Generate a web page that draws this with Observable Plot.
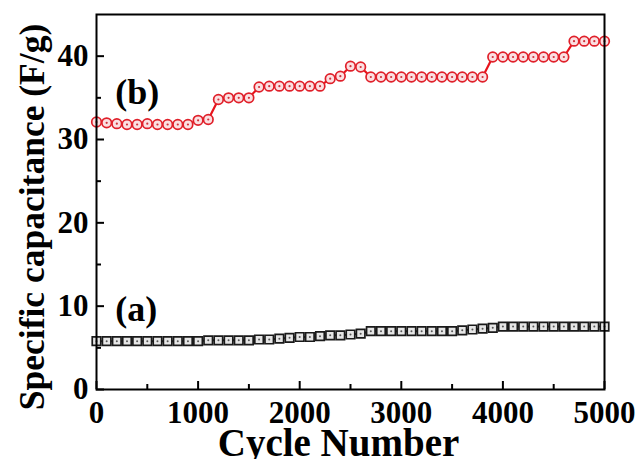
<!DOCTYPE html>
<html>
<head>
<meta charset="utf-8">
<script src="https://cdn.jsdelivr.net/npm/d3@7"></script>
<script src="https://cdn.jsdelivr.net/npm/@observablehq/plot@0.6"></script>
<style>
  html, body { margin: 0; padding: 0; background: #fff; }
</style>
</head>
<body>
<div id="chart"></div>
<script>
const cycles = [0,100,200,300,400,500,600,700,800,900,1000,1100,1200,1300,1400,1500,1600,1700,1800,1900,2000,2100,2200,2300,2400,2500,2600,2700,2800,2900,3000,3100,3200,3300,3400,3500,3600,3700,3800,3900,4000,4100,4200,4300,4400,4500,4600,4700,4800,4900,5000];
const capB = [32.1,32.0,31.9,31.8,31.8,31.9,31.8,31.8,31.8,31.8,32.3,32.4,
  34.8,35.0,35.0,35.0,
  36.3,36.4,36.4,36.4,36.4,36.4,36.4,
  37.3,37.6,38.8,38.7,
  37.5,
  37.5,37.5,37.5,37.5,37.5,37.5,37.5,37.5,37.5,37.5,37.5,
  39.9,
  39.9,39.9,39.9,39.9,39.9,39.9,39.9,
  41.8,41.8,41.8,41.8];
const capA = [5.8,5.8,5.8,5.8,5.8,5.8,5.8,5.8,5.8,5.8,5.8,
  5.9,5.9,5.9,5.9,5.9,
  6.0,6.0,6.1,6.2,6.3,6.3,6.4,6.5,6.5,6.6,6.7,
  7.0,7.0,7.0,7.0,7.0,7.0,7.0,7.0,7.0,
  7.1,7.2,7.3,7.4,
  7.55,7.55,7.55,7.55,7.55,7.55,7.55,7.55,7.55,7.55,7.55];
const xTickLabels = [0,1000,2000,3000,4000,5000];
const xMinorTicks = [500,1500,2500,3500,4500];
const yTickLabels = [0,10,20,30,40];
const yMinorTicks = [5,15,25,35];
const seriesLabels = [
  {text: "(b)", cycle: 400, cap: 35.7},
  {text: "(a)", cycle: 390, cap: 9.6}
];
const xTitle = "Cycle Number";
const yTitle = "Specific capacitance (F/g)";

const dataA = cycles.map((c, i) => ({cycle: c, cap: capA[i]}));
const dataB = cycles.map((c, i) => ({cycle: c, cap: capB[i]}));

const W = 635, H = 459, mL = 96, mR = 31, mT = 14, mB = 70;
const fw = W - mL - mR, fh = H - mT - mB;
const font = "'Liberation Serif', 'Times New Roman', serif";

const plot = Plot.plot({
  width: W, height: H,
  marginLeft: mL, marginRight: mR, marginTop: mT, marginBottom: mB,
  style: {fontFamily: font, fontWeight: "bold", fontSize: "31px", background: "#fff", color: "#000"},
  x: {domain: [0, 5000]},
  y: {domain: [0, 45]},
  marks: [
    // series a
    Plot.line(dataA, {x: "cycle", y: "cap", stroke: "#222", strokeWidth: 2}),
    Plot.dot(dataA, {x: "cycle", y: "cap", symbol: "square", r: 4.8, stroke: "#1a1a1a", strokeWidth: 1.7, fill: "#e6e6e6"}),
    Plot.dot(dataA, {x: "cycle", y: "cap", r: 1, fill: "#555"}),
    // series b
    Plot.line(dataB, {x: "cycle", y: "cap", stroke: "#e8141c", strokeWidth: 2.2}),
    Plot.dot(dataB, {x: "cycle", y: "cap", r: 4.8, stroke: "#e0202a", strokeWidth: 1.7, fill: "#fbe0e2"}),
    Plot.dot(dataB, {x: "cycle", y: "cap", r: 1.1, fill: "#d0303a"}),
    // labels
    Plot.text(seriesLabels, {x: "cycle", y: "cap", text: "text", fontSize: 36, fontWeight: "bold", fill: "#000", lineAnchor: "middle"}),
    // inward ticks
    Plot.tickX(xTickLabels, {x: d => d, insetTop: fh - 8, stroke: "#000", strokeWidth: 2}),
    Plot.tickX(xMinorTicks, {x: d => d, insetTop: fh - 5, stroke: "#000", strokeWidth: 2}),
    Plot.tickY(yTickLabels, {y: d => d, insetRight: fw - 8, stroke: "#000", strokeWidth: 2}),
    Plot.tickY(yMinorTicks, {y: d => d, insetRight: fw - 5, stroke: "#000", strokeWidth: 2}),
    Plot.axisX({ticks: xTickLabels, tickSize: 0, tickPadding: 11, tickFormat: d => String(d), fontSize: 31, fontWeight: "bold", label: null}),
    Plot.axisY({ticks: yTickLabels, tickSize: 0, tickPadding: 8, tickFormat: d => String(d), fontSize: 31, fontWeight: "bold", label: null}),
    Plot.frame({stroke: "#000", strokeWidth: 2}),
    // axis titles
    Plot.text([xTitle], {frameAnchor: "bottom", dy: 66, dx: -12, lineAnchor: "bottom", textAnchor: "middle", fontSize: 39, fontWeight: "bold", fill: "#000"}),
    Plot.text([yTitle], {frameAnchor: "left", dx: -64, dy: 15, rotate: -90, textAnchor: "middle", lineAnchor: "middle", fontSize: 35.5, fontWeight: "bold", fill: "#000"})
  ]
});
document.getElementById("chart").appendChild(plot);
</script>
</body>
</html>
